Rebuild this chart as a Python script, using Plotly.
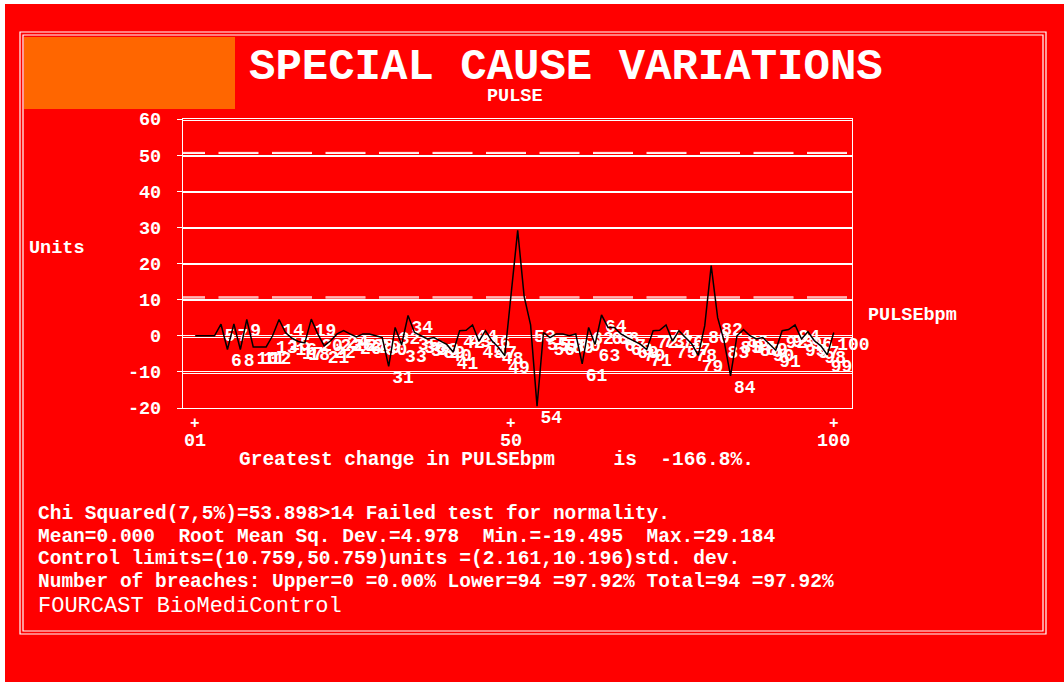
import plotly.graph_objects as go

# ---------------- data ----------------
idx = list(range(1, 101))
pulse = [
    0, 0, 0, 0,
    3.2, -3.8, 3.3, -3.8, 4.5,
    -3.1, -3.1, -3.1, 0.0, 4.5,
    0.9, -0.7, -1.6, -2.0, 4.6,
    0.5, -2.8, -1.4, 0.5, 1.4,
    0.5, -0.3, 0.5, 0.5, 0.0,
    -0.5, -8.5, 2.3, -2.5, 5.6,
    0.9, 0.0, -0.9, -0.5, -1.4,
    -2.4, -4.5, 1.4, 1.5, 3.0,
    -1.5, 1.4, -1.4, -3.2, -5.5,
    11.5, 29.184, 10.9, 3.0, -19.495,
    0.9, -0.5, 0.5, 0.5, 0.0,
    0.5, -7.8, 2.3, -2.4, 5.8,
    2.3, 2.3, 0.5, -0.5, -1.4,
    -2.3, -3.8, 1.4, 1.5, 3.0,
    -1.5, 1.4, -0.5, -2.3, -5.4,
    2.8, 19.4, 5.0, -1.5, -11.1,
    0.0, 1.7, 0.0, -0.9, -0.5,
    -2.3, -4.0, 1.4, 1.7, 3.0,
    -0.9, 1.1, -1.4, -2.8, -5.3,
    0.9,
]
first_data_point = 5
y_ticks = [-20, -10, 0, 10, 20, 30, 40, 50, 60]
x_tick_idx = [1, 50, 100]
x_tick_text = ["01", "50", "100"]
upper_limit = 50.759
lower_limit = 10.759

title_text = "SPECIAL CAUSE VARIATIONS"
subtitle_text = "PULSE"
y_title = "Units"
series_name = "PULSEbpm"
change_text = "Greatest change in PULSEbpm     is  -166.8%."
stats_lines = [
    "Chi Squared(7,5%)=53.898>14 Failed test for normality.",
    "Mean=0.000  Root Mean Sq. Dev.=4.978  Min.=-19.495  Max.=29.184",
    "Control limits=(10.759,50.759)units =(2.161,10.196)std. dev.",
    "Number of breaches: Upper=0 =0.00% Lower=94 =97.92% Total=94 =97.92%",
]
footer_text = "FOURCAST BioMediControl"

# ---------------- layout geometry ----------------
W, H = 1064, 682
L, R, T, B = 183, 852, 119, 408
XR = [-0.89, 102.83]


def fx(px):
    return (px - L) / (R - L)


def fy(py):
    return (B - py) / (B - T)


def px2data(px):
    return XR[0] + (px - L) / (R - L) * (XR[1] - XR[0])


RED = "#FF0000"
WHITE = "#FFFFFF"
MONO = "Liberation Mono, DejaVu Sans Mono, monospace"

# breach points (outside the control band) are labelled with their index
lab_x, lab_y, lab_t = [], [], []
for i, v in zip(idx, pulse):
    if i >= first_data_point and (v < lower_limit or v > upper_limit):
        lab_x.append(i)
        lab_y.append(v)
        lab_t.append(str(i))

fig = go.Figure()

# point labels (drawn first so the line sits on top)
fig.add_trace(go.Scatter(
    x=lab_x, y=lab_y, mode="markers+text", text=lab_t,
    marker=dict(size=4, color="rgba(0,0,0,0)"),
    textposition="bottom right", cliponaxis=False,
    textfont=dict(family=MONO, size=18, color=WHITE, weight="bold"),
    hoverinfo="skip", showlegend=False,
))
fig.add_trace(go.Scatter(
    x=idx, y=pulse, mode="lines",
    line=dict(color="black", width=1.5),
    showlegend=False, hoverinfo="skip",
))

shapes = []
# white page edges
shapes.append(dict(type="rect", xref="paper", yref="paper",
                   x0=fx(0), x1=fx(W), y0=fy(0), y1=fy(4),
                   fillcolor=WHITE, line=dict(width=0), layer="above"))
shapes.append(dict(type="rect", xref="paper", yref="paper",
                   x0=fx(0), x1=fx(5), y0=fy(0), y1=fy(H),
                   fillcolor=WHITE, line=dict(width=0), layer="above"))
# orange box
shapes.append(dict(type="rect", xref="paper", yref="paper",
                   x0=fx(24), x1=fx(235), y0=fy(37), y1=fy(109),
                   fillcolor="#FF6600", line=dict(width=0)))
# double border
for a in (0, 3):
    shapes.append(dict(type="rect", xref="paper", yref="paper",
                       x0=fx(20 + a), x1=fx(1046 - a), y0=fy(32 + a), y1=fy(634 - a),
                       line=dict(color=WHITE, width=1.2)))
# control limits (dashed, doubled)
for lim in (upper_limit, lower_limit):
    for off in (0, -0.3):
        shapes.append(dict(type="line", xref="x", yref="y",
                           x0=px2data(165), x1=px2data(R), y0=lim + off, y1=lim + off,
                           line=dict(color=WHITE, width=1, dash="40px,13.5px"),
                           layer="below"))

ann = []


def text(px, py, s, size=19, bold=True, anchor="left", family=MONO):
    ann.append(dict(xref="paper", yref="paper", x=fx(px), y=fy(py), text=s,
                    showarrow=False, xanchor=anchor, yanchor="middle",
                    font=dict(family=family, size=size, color=WHITE,
                              weight="bold" if bold else "normal")))


nb = "\u00a0"
text(566, 67, title_text, size=44, anchor="center")
text(515, 97, subtitle_text, size=18.5, anchor="center")
text(27, 248, y_title, size=18.5)
text(866, 315, series_name, size=18.5)
text(237, 460, change_text.replace(" ", nb), size=19.5)
for k, line in enumerate(stats_lines):
    text(36, 514 + k * 22.7, line.replace(" ", nb), size=19.5)
text(36, 606, footer_text.replace(" ", nb), size=22, bold=False)

for xv, lab in zip(x_tick_idx, x_tick_text):
    ann.append(dict(xref="x", yref="paper", x=xv, y=fy(424), text="+",
                    showarrow=False, xanchor="center", yanchor="middle",
                    font=dict(family=MONO, size=16, color=WHITE, weight="bold")))
    ann.append(dict(xref="x", yref="paper", x=xv, y=fy(441), text=lab,
                    showarrow=False, xanchor="center", yanchor="middle",
                    font=dict(family=MONO, size=18.5, color=WHITE, weight="bold")))

fig.update_layout(
    width=W, height=H,
    margin=dict(l=L, r=W - R, t=T, b=H - B, pad=0),
    paper_bgcolor=RED, plot_bgcolor=RED,
    shapes=shapes, annotations=ann,
    xaxis=dict(range=XR, showgrid=False, zeroline=False, showticklabels=False,
               showline=True, mirror=True, linecolor=WHITE, linewidth=1.2, ticks=""),
    yaxis=dict(range=[-20, 60], tickvals=y_ticks, ticktext=[str(v) for v in y_ticks],
               showgrid=True, gridcolor=WHITE, gridwidth=1, zeroline=False,
               showline=True, mirror=True, linecolor=WHITE, linewidth=1.2,
               ticks="outside", ticklen=5, tickcolor=WHITE, tickwidth=1,
               ticklabelstandoff=12,
               tickfont=dict(family=MONO, size=18.5, color=WHITE, weight="bold"),
               minor=dict(tick0=-0.35, dtick=10, showgrid=True, gridcolor=WHITE,
                          gridwidth=1, ticks="")),
    showlegend=False,
)

fig.write_html("out.html", config={"displayModeBar": False},
               post_script="document.body.style.margin='0px';document.body.style.overflow='hidden';")
